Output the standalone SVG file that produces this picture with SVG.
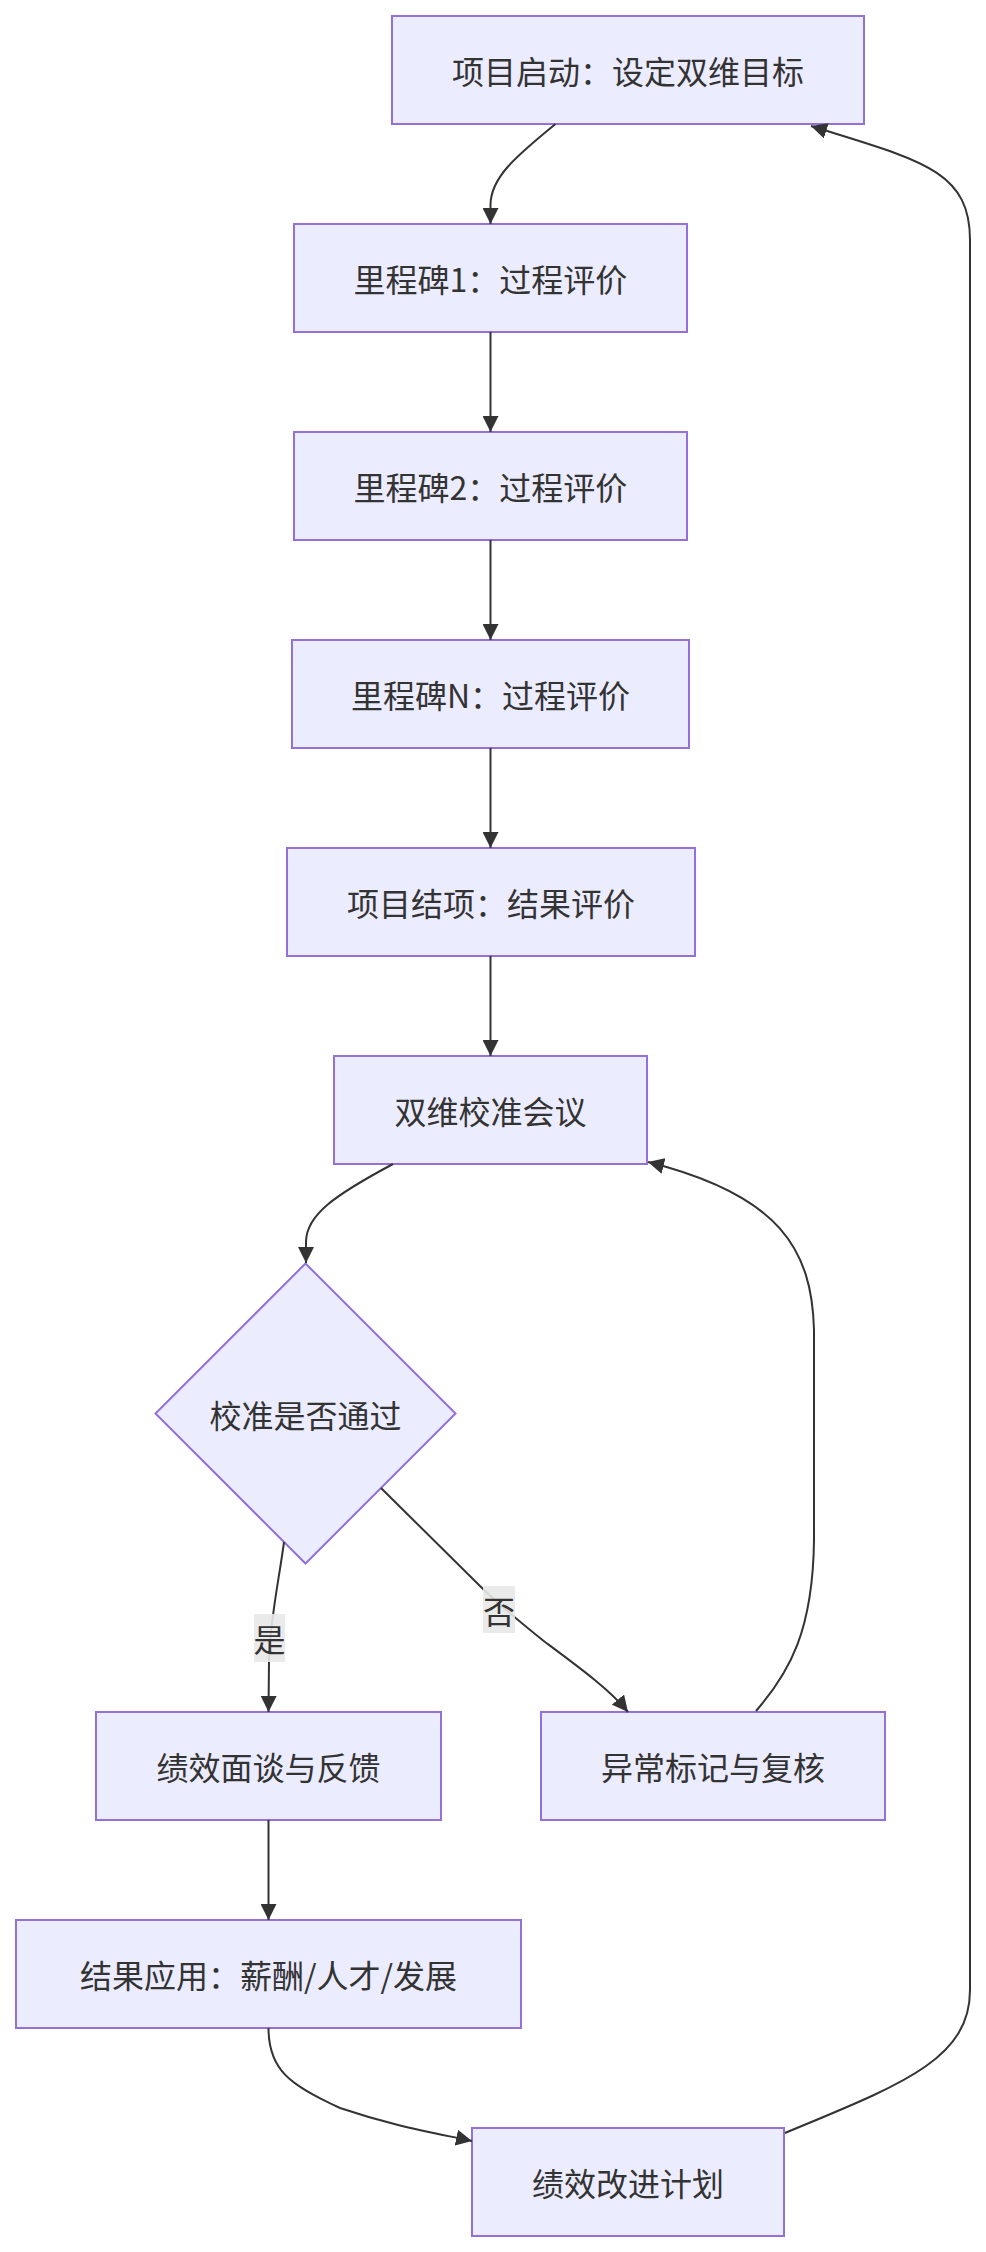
<svg xmlns="http://www.w3.org/2000/svg" width="986" height="2252" viewBox="0 0 986 2252">
<defs>
<style>
.node rect,.node polygon{fill:#ECECFF;stroke:#9370DB;stroke-width:2}
.node text,.lbl text{font-family:"Noto Sans CJK SC","Liberation Sans",sans-serif;font-size:32px;fill:#333;text-anchor:middle;dominant-baseline:central}
.edge{fill:none;stroke:#333;stroke-width:2}
.lbl rect{fill:#e8e8e8;opacity:0.9}
</style>
<marker id="arr" viewBox="0 0 10 10" refX="10" refY="5" markerWidth="16" markerHeight="16" markerUnits="userSpaceOnUse" orient="auto">
<path d="M0,0 L10,5 L0,10 z" fill="#333"/>
</marker>
</defs>
<rect width="986" height="2252" fill="#fff"/>
<g id="nodes">
<g id="start" class="node"><rect x="392" y="16" width="472" height="108"/><text x="628" y="70">项目启动：设定双维目标</text></g>
<g id="m1" class="node"><rect x="294" y="224" width="393" height="108"/><text x="490.5" y="278">里程碑1：过程评价</text></g>
<g id="m2" class="node"><rect x="294" y="432" width="393" height="108"/><text x="490.5" y="486">里程碑2：过程评价</text></g>
<g id="mN" class="node"><rect x="292" y="640" width="397" height="108"/><text x="490.5" y="694">里程碑N：过程评价</text></g>
<g id="close" class="node"><rect x="287" y="848" width="408" height="108"/><text x="491" y="902">项目结项：结果评价</text></g>
<g id="calib" class="node"><rect x="334" y="1056" width="313" height="108"/><text x="490.5" y="1110">双维校准会议</text></g>
<g id="decide" class="node"><polygon points="305.5,1263.5 455.5,1413.5 305.5,1563.5 155.5,1413.5"/><text x="305.5" y="1413.5">校准是否通过</text></g>
<g id="feedback" class="node"><rect x="96" y="1712" width="345" height="108"/><text x="268.5" y="1766">绩效面谈与反馈</text></g>
<g id="review" class="node"><rect x="541" y="1712" width="344" height="108"/><text x="713" y="1766">异常标记与复核</text></g>
<g id="apply" class="node"><rect x="16" y="1920" width="505" height="108"/><text x="268.5" y="1974">结果应用：薪酬/人才/发展</text></g>
<g id="improve" class="node"><rect x="472" y="2128" width="312" height="108"/><text x="628" y="2182">绩效改进计划</text></g>
</g>
<g id="connectors">
<path class="edge" marker-end="url(#arr)" d="M555.5,124 C515,157 490.5,178 490.5,205 L490.5,224"/>
<path class="edge" marker-end="url(#arr)" d="M490.5,332 L490.5,432"/>
<path class="edge" marker-end="url(#arr)" d="M490.5,540 L490.5,640"/>
<path class="edge" marker-end="url(#arr)" d="M490.5,748 L490.5,848"/>
<path class="edge" marker-end="url(#arr)" d="M490.5,956 L490.5,1056"/>
<path class="edge" marker-end="url(#arr)" d="M393,1164 C335,1195 306,1215 306,1242 L306,1263"/>
<path class="edge" marker-end="url(#arr)" d="M284,1542 C279,1580 270,1620 269,1660 L268.5,1712"/>
<path class="edge" marker-end="url(#arr)" d="M381,1488 L480,1586 C500,1606 520,1622 545,1642 C580,1668 610,1690 628,1712"/>
<path class="edge" marker-end="url(#arr)" d="M756,1711 C790,1672 813,1630 814,1540 L814,1330 C812,1250 780,1195 648,1162"/>
<path class="edge" marker-end="url(#arr)" d="M268.5,1820 L268.5,1920"/>
<path class="edge" marker-end="url(#arr)" d="M268.5,2028 C268.5,2070 290,2085 340,2108 C390,2125 430,2132 472,2141"/>
<path class="edge" marker-end="url(#arr)" d="M785,2133 C900,2085 970,2060 970,1990 L970,240 C970,170 920,160 811,126"/>
<g class="lbl"><rect x="254" y="1614" width="31" height="48"/><text x="269.5" y="1638">是</text></g>
<g class="lbl"><rect x="483" y="1586" width="32" height="47"/><text x="499" y="1609.5">否</text></g>
</g>
</svg>
